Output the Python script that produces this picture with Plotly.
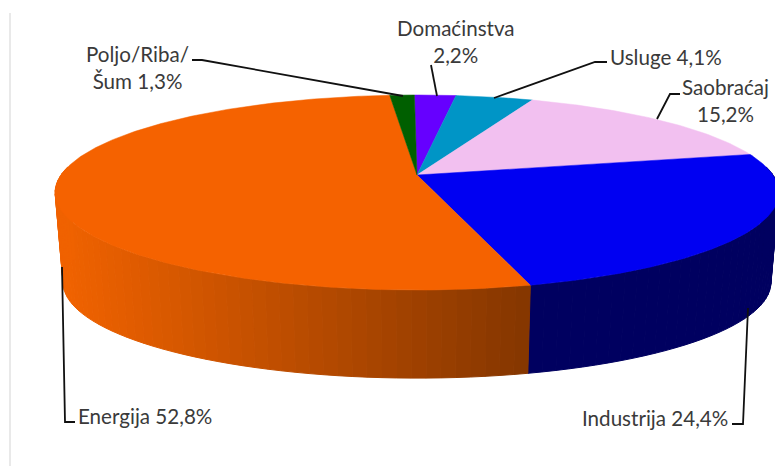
import numpy as np
import plotly.graph_objects as go

categories = ["Domaćinstva", "Usluge", "Saobraćaj", "Industrija", "Energija", "Poljo/Riba/Šum"]
shares = [2.2, 4.1, 15.2, 24.4, 52.8, 1.3]
top_colors = ["#6600FF", "#0095C6", "#F2C0F0", "#0000F2", "#F56200", "#005F00"]
wall_left = ["#3A0090", "#005570", "#8A6D88", "#000066", "#F06200", "#003600"]
wall_right = ["#3A0090", "#005570", "#8A6D88", "#000060", "#843600", "#003600"]

label_texts = ["Domaćinstva<br>2,2%", "Usluge 4,1%", "Saobraćaj<br>15,2%", "Industrija 24,4%",
               "Energija 52,8%", "Poljo/Riba/<br>Šum 1,3%"]

W, H = 775, 466
CX, APEX_Y = 417.0, 175.0
A, B, K = 356.0, 94.4, 0.1795
SIDE_Y, BOTTOM_Y, WALL_SCALE = 193.0, 283.0, 0.98
ROTATION = -0.5


def rim(deg):
    t = np.radians(deg)
    d = 1 + K * np.cos(t)
    return CX + A * np.sin(t) / d, APEX_Y - B * np.cos(t) / d


def rim_bottom(deg):
    x, y = rim(deg)
    return CX + (x - CX) * 0.978, BOTTOM_Y + (y - SIDE_Y) * WALL_SCALE


def hex_rgb(h):
    return np.array([int(h[i:i + 2], 16) for i in (1, 3, 5)], dtype=float)


def lerp(c1, c2, f):
    f = min(max(f, 0.0), 1.0)
    r, g, b = hex_rgb(c1) + (hex_rgb(c2) - hex_rgb(c1)) * f
    return f"rgb({r:.0f},{g:.0f},{b:.0f})"


fig = go.Figure()
edges = np.concatenate([[0.0], np.cumsum(shares)]) * 3.6 / (sum(shares) / 100) + ROTATION

# side walls, drawn strip by strip so the shading can change along the rim
for i in range(len(shares)):
    start, end = edges[i], edges[i + 1]
    lo, hi = max(start, 85.0), min(end, 275.0)
    if hi <= lo:
        continue
    steps = np.linspace(lo, hi, max(2, int((hi - lo) / 2.0) + 1))
    x_min, x_max = 63.0, 530.0
    for s0, s1 in zip(steps[:-1], steps[1:]):
        xa, ya = rim(np.array([s0, s1]))
        xb, yb = rim_bottom(np.array([s1, s0]))
        f = ((xa.mean()) - x_min) / (x_max - x_min)
        col = lerp(wall_left[i], wall_right[i], f)
        fig.add_trace(go.Scatter(
            x=list(xa) + list(xb) + [xa[0]], y=list(ya) + list(yb) + [ya[0]],
            mode="lines", fill="toself", fillcolor=col,
            line=dict(color=col, width=1), hoverinfo="skip", showlegend=False))

# top face
for i, name in enumerate(categories):
    arc = np.linspace(edges[i], edges[i + 1], max(3, int(shares[i] * 6)))
    x, y = rim(arc)
    fig.add_trace(go.Scatter(
        x=[CX] + list(x) + [CX], y=[APEX_Y] + list(y) + [APEX_Y],
        mode="lines", fill="toself", fillcolor=top_colors[i],
        line=dict(color=top_colors[i], width=0.5), name=name,
        hoverinfo="skip", showlegend=False))

# leader lines
leaders = [
    ([431, 437], [65, 96]),
    ([607, 595, 494], [62, 62, 98]),
    ([680, 670, 657], [94, 94, 119]),
    ([732, 743, 748], [424, 424, 308]),
    ([75, 65, 62], [422, 422, 267]),
    ([192, 202, 403], [60, 60, 96]),
]
for lx, ly in leaders:
    fig.add_trace(go.Scatter(x=lx, y=ly, mode="lines", line=dict(color="#111111", width=1.8),
                             hoverinfo="skip", showlegend=False))

# labels: x, y, anchor
label_pos = [(456, 41, "center"), (608, 57, "left"), (725, 100, "center"),
             (580, 418, "left"), (76, 416, "left"), (137, 67, "center")]
for text, (lx, ly, anchor) in zip(label_texts, label_pos):
    fig.add_annotation(x=lx, y=ly, text=text, showarrow=False, xanchor=anchor, yanchor="middle",
                       align="center", font=dict(family="Lato", size=20.6, color="#3A3A3A"))

# faint frame line at the left of the picture
fig.add_shape(type="line", x0=10, x1=10, y0=13, y1=466, line=dict(color="#E2E2E2", width=1.5))

fig.update_xaxes(visible=False, range=[0, W], fixedrange=True)
fig.update_yaxes(visible=False, range=[H, 0], fixedrange=True)
fig.update_layout(width=W, height=H, margin=dict(l=0, r=0, t=0, b=0),
                  paper_bgcolor="white", plot_bgcolor="white", showlegend=False)
fig.write_html("out.html", config={"displayModeBar": False},
               post_script="document.body.style.margin='0';document.documentElement.style.overflow='hidden';")
